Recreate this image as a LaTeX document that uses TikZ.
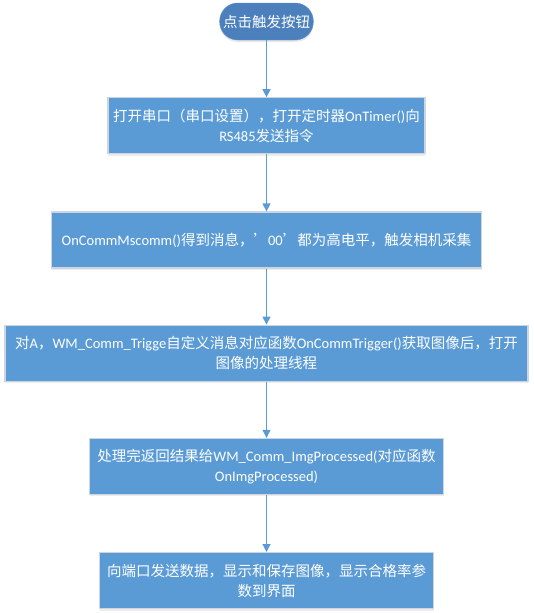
\documentclass[tikz,border=0pt]{standalone}
\usepackage{fontspec}
\setmainfont{Noto Sans CJK SC}
\newfontfamily\latfont{Carlito}
\usepackage{tikz}
\usetikzlibrary{arrows.meta,positioning,shadows}
\definecolor{StepBlue}{RGB}{91,155,213}
\definecolor{StartBlue}{RGB}{76,128,189}
\definecolor{EdgeGray}{RGB}{204,213,224}
\newcommand{\lt}[1]{{\latfont #1}}
\tikzset{
  termbox/.style={draw=StartBlue!85!white,fill=StartBlue,rounded corners=18pt,
    minimum width=93pt,minimum height=37pt,text=white,
    font=\fontsize{14.5}{20}\selectfont,
    drop shadow={shadow xshift=0pt,shadow yshift=-2pt,opacity=0.18}},
  procbox/.style={draw=EdgeGray,line width=1.2pt,fill=StepBlue,
    minimum height=56pt,text=white,align=center,inner sep=2pt,
    font=\fontsize{14.5}{20}\selectfont,
    drop shadow={shadow xshift=0pt,shadow yshift=-2pt,opacity=0.15}},
  arrow/.style={-{Triangle[width=8pt,length=8pt]},line width=1.2pt,StepBlue}
}
\begin{document}
\begin{tikzpicture}[node distance=57pt]
\useasboundingbox (0,0) rectangle (534pt,-613pt);
\node[termbox] (start) at (266.5pt,-21.5pt) {点击触发按钮};
\node[procbox,minimum width=317pt,below=of start] (serial)
  {打开串口（串口设置），打开定时器\lt{OnTimer()}向\\\lt{RS485}发送指令};
\node[procbox,minimum width=430pt,below=of serial] (mscomm)
  {\lt{OnCommMscomm()}得到消息，’\lt{00}’都为高电平，触发相机采集};
\node[procbox,minimum width=523pt,below=56pt of mscomm] (trigger)
  {对\lt{A}，\lt{WM\_Comm\_Trigge}自定义消息对应函数\lt{OnCommTrigger()}获取图像后，打开\\图像的处理线程};
\node[procbox,minimum width=354pt,below=56pt of trigger] (process)
  {处理完返回结果给\lt{WM\_Comm\_ImgProcessed(}对应函数\\\lt{OnImgProcessed)}};
\node[procbox,minimum width=334pt,below=of process] (output)
  {向端口发送数据，显示和保存图像，显示合格率参\\数到界面};
% connectors
\draw[arrow] (start) -- (serial);
\draw[arrow] (serial) -- (mscomm);
\draw[arrow] (mscomm) -- (trigger);
\draw[arrow] (trigger) -- (process);
\draw[arrow] (process) -- (output);
\end{tikzpicture}
\end{document}
